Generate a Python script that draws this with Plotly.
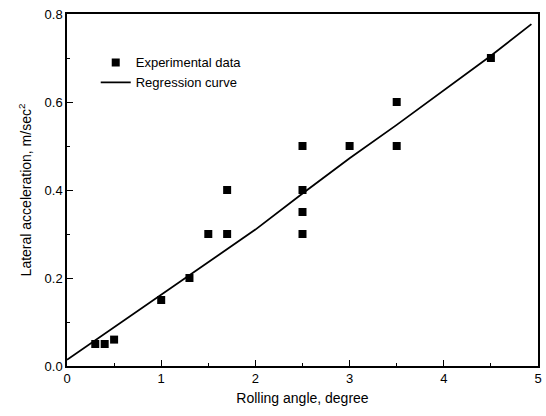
import plotly.graph_objects as go

# Experimental data
exp_x = [0.3, 0.4, 0.5, 1.0, 1.3, 1.5, 1.7, 1.7, 2.5, 2.5, 2.5, 2.5, 3.0, 3.5, 3.5, 4.5]
exp_y = [0.05, 0.05, 0.06, 0.15, 0.20, 0.30, 0.30, 0.40, 0.50, 0.40, 0.35, 0.30, 0.50, 0.60, 0.50, 0.70]

# Regression curve
reg_x = [0.0, 0.5, 1.0, 1.5, 2.0, 2.5, 3.0, 3.5, 4.0, 4.5, 4.93]
reg_y = [0.014, 0.088, 0.160, 0.234, 0.310, 0.392, 0.472, 0.548, 0.627, 0.705, 0.777]

x_ticks = [0, 1, 2, 3, 4, 5]
y_ticks = [0.0, 0.2, 0.4, 0.6, 0.8]

font = "Liberation Sans, Arial, sans-serif"

fig = go.Figure()
fig.add_trace(go.Scatter(
    x=exp_x, y=exp_y, mode="markers", name="Experimental data",
    marker=dict(symbol="square", size=8, color="black"),
))
fig.add_trace(go.Scatter(
    x=reg_x, y=reg_y, mode="lines", name="Regression curve",
    line=dict(color="black", width=1.8),
))

fig.update_layout(
    width=546, height=416,
    margin=dict(l=67, r=4, t=14, b=50),
    paper_bgcolor="white", plot_bgcolor="white",
    font=dict(family=font, size=13, color="black"),
    showlegend=True,
    legend=dict(x=0.061, y=0.905, xanchor="left", yanchor="top",
                bgcolor="rgba(0,0,0,0)", font=dict(size=13),
                itemwidth=30, tracegroupgap=0),
)
fig.update_xaxes(
    range=[0, 5], tickvals=x_ticks, ticktext=[str(v) for v in x_ticks],
    showgrid=False, zeroline=False,
    showline=True, linecolor="black", linewidth=1.5, mirror=True,
    ticks="inside", ticklen=6, tickwidth=1.2, tickcolor="black",
    minor=dict(dtick=0.5, ticks="inside", ticklen=3, tickwidth=1, tickcolor="black"),
    title=dict(text="Rolling angle, degree", font=dict(size=14), standoff=8),
)
fig.update_yaxes(
    range=[0, 0.8], tickvals=y_ticks, ticktext=["%.1f" % v for v in y_ticks],
    showgrid=False, zeroline=False,
    showline=True, linecolor="black", linewidth=1.5, mirror=True,
    ticks="inside", ticklen=6, tickwidth=1.2, tickcolor="black",
    minor=dict(dtick=0.1, ticks="inside", ticklen=3, tickwidth=1, tickcolor="black"),
    title=dict(text="Lateral acceleration, m/sec<sup>2</sup>", font=dict(size=14), standoff=10),
)

fig.write_html("out.html")
